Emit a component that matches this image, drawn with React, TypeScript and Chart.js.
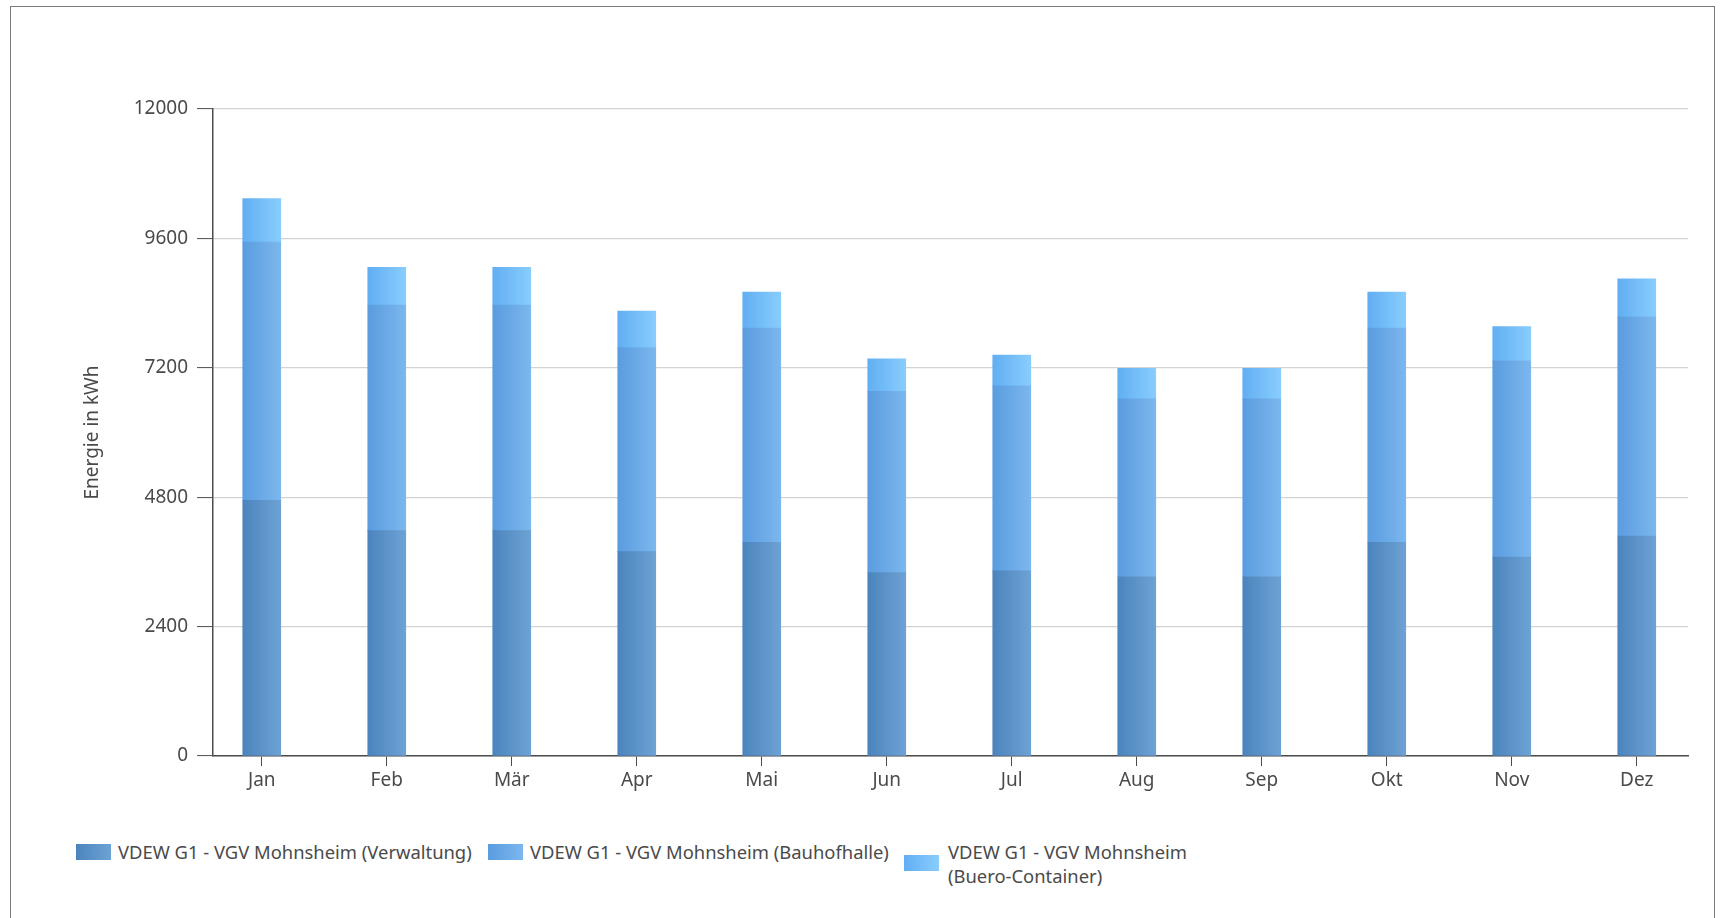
import React, { useEffect, useRef } from "react";
import { Chart, registerables } from "chart.js";

Chart.register(...registerables);

// ---- data ----
const months = ["Jan", "Feb", "Mär", "Apr", "Mai", "Jun", "Jul", "Aug", "Sep", "Okt", "Nov", "Dez"];
const verwaltung = [4740, 4180, 4180, 3790, 3965, 3400, 3435, 3330, 3330, 3965, 3690, 4080];
const bauhofhalle = [4790, 4185, 4185, 3785, 3970, 3365, 3430, 3295, 3295, 3970, 3645, 4065];
const bueroContainer = [810, 700, 700, 675, 670, 600, 570, 565, 565, 670, 630, 705];
const seriesLabels = [
  "VDEW G1 - VGV Mohnsheim (Verwaltung)",
  "VDEW G1 - VGV Mohnsheim (Bauhofhalle)",
  "VDEW G1 - VGV Mohnsheim (Buero-Container)",
];
const yMin = 0;
const yMax = 12000;
const yStep = 2400;
const yTitle = "Energie in kWh";

const FONT = "'Noto Sans', 'DejaVu Sans', sans-serif";
const TEXT = "#4a4a4a";
const AXIS = "#4d4d4d";

const gradStops: [string, string][] = [
  ["#4b84bd", "#6da2d4"],
  ["#5a9cdf", "#7cb7ee"],
  ["#62aef3", "#88cdfd"],
];

const BAR_W = 38;

function makeBg(series: number) {
  return (ctx: any) => {
    const chart = ctx.chart;
    const xs = chart.scales?.x;
    const [c0, c1] = gradStops[series];
    if (!xs || ctx.dataIndex == null) return c0;
    const cx = xs.getPixelForValue(ctx.dataIndex);
    if (!isFinite(cx)) return c0;
    const g = chart.ctx.createLinearGradient(cx - BAR_W / 2, 0, cx + BAR_W / 2, 0);
    g.addColorStop(0, c0);
    g.addColorStop(1, c1);
    return g;
  };
}

const seriesValues = [verwaltung, bauhofhalle, bueroContainer];

export default function App() {
  const canvasRef = useRef<HTMLCanvasElement | null>(null);

  useEffect(() => {
    document.body.style.margin = "0";
    document.body.style.overflow = "hidden";
    const canvas = canvasRef.current;
    if (!canvas) return;
    const chart = new Chart(canvas, {
      type: "bar",
      data: {
        datasets: seriesValues.map((vals, s) => ({
          label: seriesLabels[s],
          data: months.map((_, i) => ({ x: i, y: vals[i] })),
          backgroundColor: makeBg(s),
          borderWidth: 0,
          barThickness: BAR_W,
        })),
      },
      options: {
        animation: false,
        responsive: false,
        layout: { padding: { left: 60, right: 38, top: 109, bottom: 34 } },
        plugins: {
          legend: { display: false },
          tooltip: { enabled: false },
        },
        scales: {
          x: {
            type: "linear",
            stacked: true,
            offset: false,
            min: -0.39,
            max: 11.41,
            afterFit: (s: any) => {
              s.height = 40;
            },
            grid: {
              offset: false,
              drawOnChartArea: false,
              drawTicks: true,
              tickLength: 10,
              tickColor: AXIS,
              tickWidth: 1,
            },
            border: { color: AXIS, width: 1.5 },
            ticks: {
              stepSize: 1,
              includeBounds: false,
              maxTicksLimit: 30,
              autoSkip: false,
              maxRotation: 0,
              padding: 3,
              color: TEXT,
              font: { family: FONT, size: 19 },
              callback: (v: any) => (Number.isInteger(v) && months[v] ? months[v] : ""),
            },
          },
          y: {
            stacked: true,
            min: yMin,
            max: yMax,
            afterFit: (s: any) => {
              s.width = 153;
            },
            grid: {
              color: "#d3d3d3",
              lineWidth: 1.2,
              drawTicks: true,
              tickLength: 16,
              tickColor: AXIS,
              tickWidth: 1,
            },
            border: { color: AXIS, width: 1.5 },
            ticks: {
              stepSize: yStep,
              padding: 9,
              color: TEXT,
              font: { family: FONT, size: 19 },
              callback: (v: any) => String(v),
            },
            title: {
              display: true,
              text: yTitle,
              color: TEXT,
              font: { family: FONT, size: 19 },
              padding: { top: 21, bottom: 0 },
            },
          },
        },
      },
    } as any);
    return () => chart.destroy();
  }, []);

  const legendText: React.CSSProperties = {
    position: "absolute",
    fontFamily: FONT,
    fontSize: 18.4,
    color: TEXT,
    lineHeight: "24px",
    whiteSpace: "nowrap",
  };
  const box = (s: number): React.CSSProperties => ({
    position: "absolute",
    width: 35,
    height: 16,
    background: `linear-gradient(to right, ${gradStops[s][0]}, ${gradStops[s][1]})`,
  });

  return (
    <div style={{ position: "fixed", left: 0, top: 0, width: 1726, height: 918, background: "#fff", overflow: "hidden" }}>
      <div
        style={{
          position: "absolute",
          left: 10,
          top: 6,
          width: 1705,
          height: 960,
          border: "1px solid #7a7a7a",
          boxSizing: "border-box",
        }}
      />
      <canvas ref={canvasRef} width={1726} height={830} style={{ position: "absolute", left: 0, top: 0 }} />
      <div style={{ ...box(0), left: 76, top: 844 }} />
      <div style={{ ...legendText, left: 118, top: 840 }}>{seriesLabels[0]}</div>
      <div style={{ ...box(1), left: 488, top: 844 }} />
      <div style={{ ...legendText, left: 530, top: 840 }}>{seriesLabels[1]}</div>
      <div style={{ ...box(2), left: 904, top: 855 }} />
      <div style={{ ...legendText, left: 948, top: 840 }}>
        {seriesLabels[2].replace(" (", "\u0000(").split("\u0000").map((t, i) => (
          <div key={i}>{t}</div>
        ))}
      </div>
    </div>
  );
}
